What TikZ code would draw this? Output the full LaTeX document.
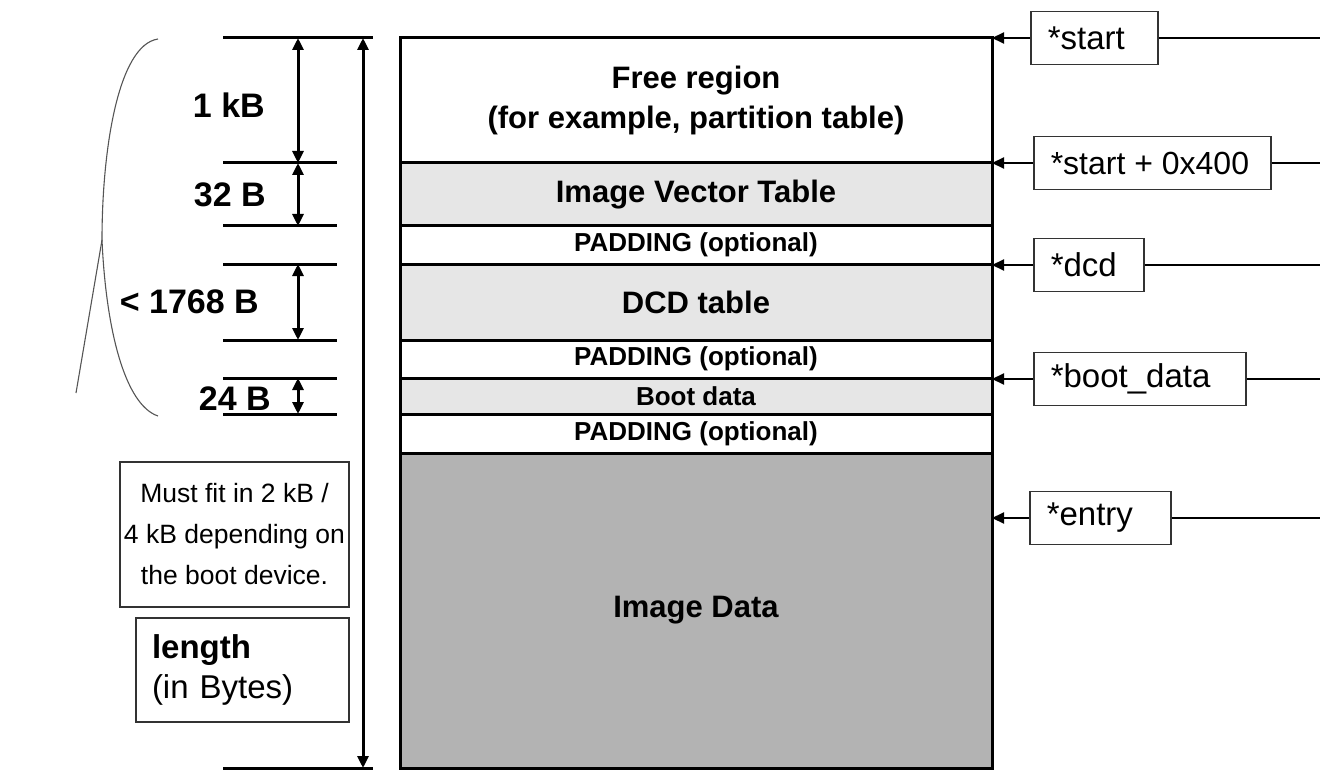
\documentclass[tikz,border=0pt]{standalone}
\usepackage{fontspec}
\setmainfont{Liberation Sans}
\usetikzlibrary{arrows.meta}
\definecolor{lgray}{HTML}{E6E6E6}
\definecolor{dgray}{HTML}{B3B3B3}
\definecolor{curvegray}{HTML}{555555}
\newcommand{\ptrtext}[2]{\makebox[#1][l]{#2}}
\begin{document}
\begin{tikzpicture}[x=1pt,y=-1pt,
  band/.style={draw=black, line width=3pt, minimum width=592pt, inner sep=0pt, align=center,
    font=\bfseries\fontsize{31}{40}\selectfont},
  padband/.style={band, font=\bfseries\fontsize{26}{30}\selectfont},
  dimline/.style={line width=3pt},
  dimarrow/.style={line width=3pt, {Triangle[length=12pt,width=11pt]}-{Triangle[length=12pt,width=11pt]}},
  dimlbl/.style={font=\bfseries\fontsize{34}{38}\selectfont, inner sep=0pt, anchor=east},
  ptrbox/.style={draw=black!80, line width=1.5pt, minimum height=53pt, inner xsep=17pt, inner ysep=0pt,
    font=\fontsize{33}{36}\selectfont},
  ptr/.style={line width=2.2pt, -{Triangle[length=12pt,width=11pt]}},
  ptrline/.style={line width=2.2pt},
  txtbox/.style={draw=black!80, line width=1.5pt, inner sep=0pt},
  curve/.style={draw=curvegray, line width=1.1pt}
]
\useasboundingbox (0,0) rectangle (1320,770);

% memory map bands
\node[band, fill=white, minimum height=125pt] (free) at (696,100.5) {Free region\\(for example, partition table)};
\node[band, fill=lgray, minimum height=63pt] (ivt) at (696,194.5) {Image Vector Table};
\node[padband, fill=white, minimum height=38pt] (pad1) at (696,245) {PADDING (optional)};
\node[band, fill=lgray, minimum height=76pt] (dcd) at (696,302) {DCD table};
\node[padband, fill=white, minimum height=38pt] (pad2) at (696,359) {PADDING (optional)};
\node[padband, fill=lgray, minimum height=36pt] (boot) at (696,396) {Boot data};
\node[padband, fill=white, minimum height=39pt] (pad3) at (696,433.5) {PADDING (optional)};
\node[band, fill=dgray, minimum height=315pt] (img) at (696,610.5) {Image Data};

% right pointer labels
\coordinate (rs) at (992,38);
\coordinate (rs4) at (992,163);
\coordinate (rd) at (992,265);
\coordinate (rb) at (992,379);
\coordinate (re) at (992,518);
\coordinate (fs) at (1320,38);
\coordinate (fs4) at (1320,163);
\coordinate (fd) at (1320,265);
\coordinate (fb) at (1320,379);
\coordinate (fe) at (1320,518);
\node[ptrbox, anchor=west] (pstart) at (1030,38) {\ptrtext{93pt}{*start}};
\node[ptrbox, anchor=west, font=\fontsize{32}{36}\selectfont] (pstart4) at (1033,163) {\ptrtext{203pt}{*start + 0x400}};
\node[ptrbox, anchor=west] (pdcd) at (1033,265) {\ptrtext{76pt}{*dcd}};
\node[ptrbox, anchor=west] (pboot) at (1033,379) {\ptrtext{178pt}{*boot\_data}};
\node[ptrbox, anchor=west] (pentry) at (1029,518) {\ptrtext{107pt}{*entry}};
\draw[ptr] (pstart.west) -- (rs);
\draw[ptr] (pstart4.west) -- (rs4);
\draw[ptr] (pdcd.west) -- (rd);
\draw[ptr] (pboot.west) -- (rb);
\draw[ptr] (pentry.west) -- (re);
\draw[ptrline] (pstart.east) -- (fs);
\draw[ptrline] (pstart4.east) -- (fs4);
\draw[ptrline] (pdcd.east) -- (fd);
\draw[ptrline] (pboot.east) -- (fb);
\draw[ptrline] (pentry.east) -- (fe);

% left dimension lines
\coordinate (t0a) at (223,38);  \coordinate (t0b) at (373,38);
\coordinate (t1a) at (223,163); \coordinate (t1b) at (337,163);
\coordinate (t2a) at (223,226); \coordinate (t2b) at (337,226);
\coordinate (t3a) at (223,264); \coordinate (t3b) at (337,264);
\coordinate (t4a) at (223,340); \coordinate (t4b) at (337,340);
\coordinate (t5a) at (223,378); \coordinate (t5b) at (337,378);
\coordinate (t6a) at (223,414); \coordinate (t6b) at (337,414);
\coordinate (t7a) at (223,768); \coordinate (t7b) at (373,768);
\foreach \i in {0,...,7} {\draw[dimline] (t\i a) -- (t\i b);}

\coordinate (a1) at (298,38);  \coordinate (a2) at (298,163);
\coordinate (a3) at (298,163); \coordinate (a4) at (298,226);
\coordinate (a5) at (298,264); \coordinate (a6) at (298,340);
\coordinate (a7) at (298,378); \coordinate (a8) at (298,414);
\coordinate (L1) at (363,38);  \coordinate (L2) at (363,768);
\draw[dimarrow] (a1) -- (a2);
\draw[dimarrow] (a3) -- (a4);
\draw[dimarrow] (a5) -- (a6);
\draw[dimarrow] (a7) -- (a8);
\draw[dimarrow] (L1) -- (L2);

\node[dimlbl] (l1) at (265,105) {1 kB};
\node[dimlbl] (l2) at (266,195) {32 B};
\node[dimlbl] (l3) at (259,302) {< 1768 B};
\node[dimlbl] (l4) at (271,399) {24 B};

% brace-like curve
\draw[curve] (158,39) .. controls (118,45) and (102,150) .. (102,240);
\draw[curve] (102,240) -- (76,393);
\draw[curve] (102,240) .. controls (106,330) and (125,405) .. (158,416);

% note boxes
\node[txtbox, minimum width=229pt, minimum height=145pt, align=center,
  font=\fontsize{26.5}{41}\selectfont] (fit) at (234.5,534.5)
  {Must fit in 2 kB /\\4 kB depending on\\the boot device.};
\node[txtbox, minimum width=213pt, minimum height=104pt, text width=181pt, inner xsep=16pt, align=left,
  font=\fontsize{33}{40}\selectfont] (len) at (242.5,670) {\textbf{length}\\(in Bytes)};
\end{tikzpicture}
\end{document}
